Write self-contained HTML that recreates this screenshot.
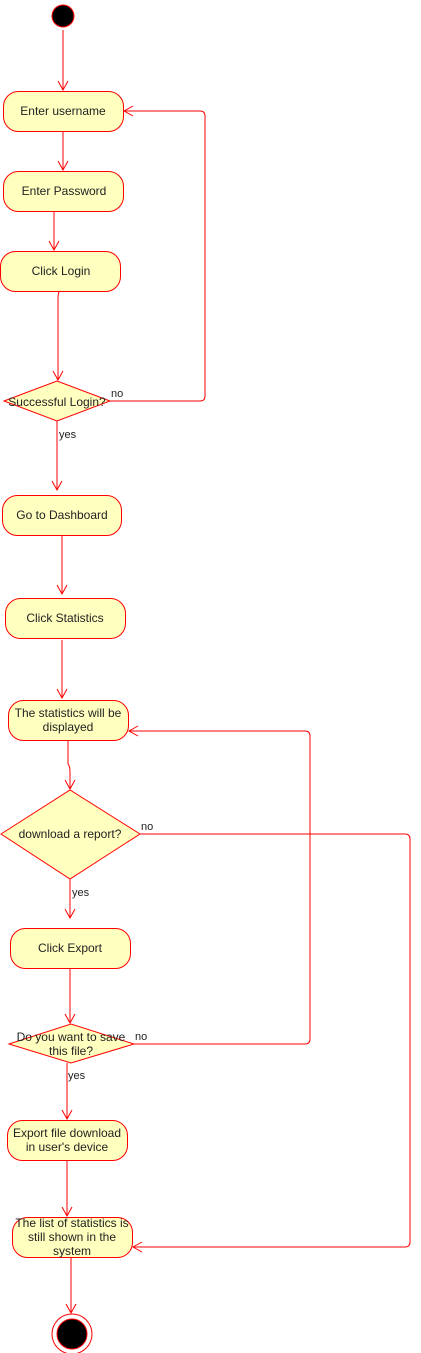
<!DOCTYPE html>
<html><head><meta charset="utf-8"><style>
html,body{margin:0;padding:0;background:#fff;width:421px;height:1353px;overflow:hidden}
svg text{font-family:"Liberation Sans",sans-serif;font-size:12px;fill:#222}
</style></head><body>
<svg width="421" height="1353" viewBox="0 0 421 1353" xmlns="http://www.w3.org/2000/svg">
<defs>
<marker id="a" markerWidth="12" markerHeight="12" refX="10" refY="6" orient="auto" markerUnits="userSpaceOnUse">
<path d="M1,1 L10,6 L1,11" fill="none" stroke="#f00" stroke-width="1"/>
</marker>
</defs>
<g fill="none" stroke="#f00" stroke-width="1">
<path d="M63,30 V90" marker-end="url(#a)"/>
<path d="M63,131 V170" marker-end="url(#a)"/>
<path d="M54,211 V250" marker-end="url(#a)"/>
<path d="M60,291 Q58,292 58,298 V380" marker-end="url(#a)"/>
<path d="M110,401 H200 Q205,401 205,396 V116 Q205,111 200,111 H124" marker-end="url(#a)"/>
<path d="M57,421 V490" marker-end="url(#a)"/>
<path d="M62,535 V594" marker-end="url(#a)"/>
<path d="M62,640 V698" marker-end="url(#a)"/>
<path d="M68,740 V764 Q70,766 70,772 V789" marker-end="url(#a)"/>
<path d="M140,834 H405 Q410,834 410,839 V1242 Q410,1247 405,1247 H133" marker-end="url(#a)"/>
<path d="M70,879 V918" marker-end="url(#a)"/>
<path d="M70,968 V1023" marker-end="url(#a)"/>
<path d="M134,1044 H305 Q310,1044 310,1039 V736 Q310,731 305,731 H129" marker-end="url(#a)"/>
<path d="M67,1063 V1119" marker-end="url(#a)"/>
<path d="M67,1160 V1216" marker-end="url(#a)"/>
<path d="M71,1257 V1313" marker-end="url(#a)"/>
</g>
<circle cx="63" cy="16" r="11" fill="#000" stroke="#f00"/>
<g fill="#ffffc0" stroke="#f00" stroke-width="1">
<rect x="3.5" y="91.5" width="120" height="40" rx="15"/>
<rect x="3.5" y="171.5" width="120" height="40" rx="15"/>
<rect x="0.5" y="251.5" width="120" height="40" rx="15"/>
<polygon points="4,401 57,381 110,401 57,421"/>
<rect x="2.5" y="495.5" width="119" height="40" rx="15"/>
<rect x="5.5" y="598.5" width="120" height="40" rx="15"/>
<rect x="8.5" y="700.5" width="120" height="40" rx="15"/>
<polygon points="1,834 70,790 140,834 70,879"/>
<rect x="10.5" y="928.5" width="120" height="40" rx="15"/>
<polygon points="9,1044 71,1024 134,1044 71,1063"/>
<rect x="7.5" y="1120.5" width="120" height="40" rx="15"/>
<rect x="12.5" y="1217.5" width="120" height="40" rx="15"/>
</g>
<circle cx="72" cy="1334" r="20" fill="#fff" stroke="#f00"/>
<circle cx="72" cy="1334" r="15" fill="#000" stroke="#f00"/>
<g text-anchor="middle">
<text x="63" y="115">Enter username</text>
<text x="64" y="195">Enter Password</text>
<text x="61" y="275">Click Login</text>
<text x="57" y="406">Successful Login?</text>
<text x="62" y="519">Go to Dashboard</text>
<text x="65" y="622">Click Statistics</text>
<text x="68" y="717">The statistics will be</text>
<text x="68" y="731">displayed</text>
<text x="70" y="838">download a report?</text>
<text x="70" y="952">Click Export</text>
<text x="71" y="1041">Do you want to save</text>
<text x="71" y="1055">this file?</text>
<text x="67" y="1137">Export file download</text>
<text x="67" y="1151">in user's device</text>
<text x="72" y="1227">The list of statistics is</text>
<text x="72" y="1241">still shown in the</text>
<text x="72" y="1255">system</text>
</g>
<g>
<text x="111" y="397" style="font-size:11px">no</text>
<text x="59" y="438" style="font-size:11px">yes</text>
<text x="141" y="830" style="font-size:11px">no</text>
<text x="72" y="896" style="font-size:11px">yes</text>
<text x="135" y="1040" style="font-size:11px">no</text>
<text x="68" y="1079" style="font-size:11px">yes</text>
</g>
</svg>
</body></html>
